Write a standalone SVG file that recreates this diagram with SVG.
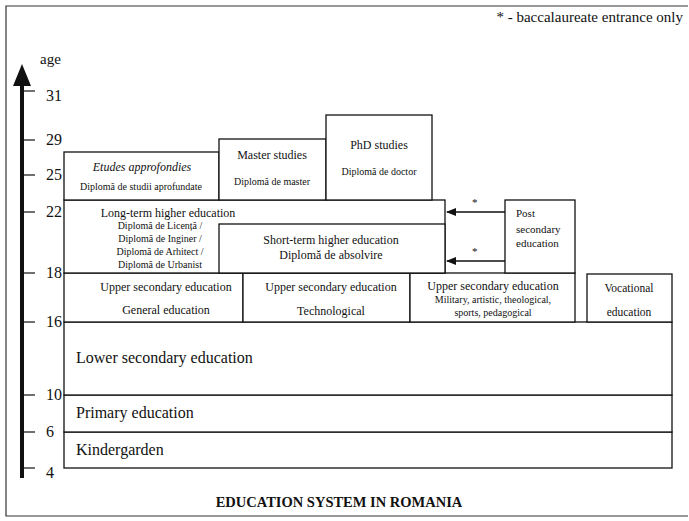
<svg xmlns="http://www.w3.org/2000/svg" width="689" height="521" viewBox="0 0 689 521">
<style>
.b{fill:#fff;stroke:#111;stroke-width:1.3}
.t{font-family:"Liberation Serif","Times New Roman",serif;fill:#111}
.m{font-size:12px;text-anchor:middle}
.s{font-size:10px;text-anchor:middle}
.p{font-size:11px;text-anchor:start}
.v{font-size:11.5px;text-anchor:middle}
.l{font-size:16px}
.a{font-size:16px}
.c{stroke:#111;stroke-width:1.6;fill:none}
</style>
<defs>
<marker id="ah" markerWidth="10" markerHeight="8" refX="9" refY="4" orient="auto" markerUnits="userSpaceOnUse">
<path d="M0,0 L10,4 L0,8 z" fill="#111"/>
</marker>
</defs>
<rect width="689" height="521" fill="#fff"/>
<polyline points="688,6 6,6 6,516 688,516" fill="none" stroke="#333" stroke-width="1.2"/>
<text class="t" x="683" y="22" font-size="15" text-anchor="end">* - baccalaureate entrance only</text>

<g id="axis">
<line x1="22" y1="82" x2="22" y2="478" stroke="#111" stroke-width="4"/>
<path d="M22,64 L31,86 L13,86 z" fill="#111"/>
<text class="t" x="40" y="64" font-size="15">age</text>
<g stroke="#111" stroke-width="1.2">
<line x1="22" y1="91" x2="35" y2="91"/>
<line x1="22" y1="140" x2="35" y2="140"/>
<line x1="22" y1="175" x2="35" y2="175"/>
<line x1="22" y1="212" x2="35" y2="212"/>
<line x1="22" y1="273" x2="35" y2="273"/>
<line x1="22" y1="322" x2="35" y2="322"/>
<line x1="22" y1="395" x2="35" y2="395"/>
<line x1="22" y1="432" x2="35" y2="432"/>
<line x1="22" y1="468" x2="35" y2="468"/>
</g>
<text class="t a" x="46" y="101">31</text>
<text class="t a" x="46" y="145">29</text>
<text class="t a" x="46" y="180">25</text>
<text class="t a" x="46" y="217">22</text>
<text class="t a" x="46" y="278">18</text>
<text class="t a" x="46" y="327">16</text>
<text class="t a" x="46" y="400">10</text>
<text class="t a" x="46" y="437">6</text>
<text class="t a" x="46" y="478">4</text>
</g>

<g id="kindergarden">
<rect class="b" x="64" y="432" width="608" height="36"/>
<text class="t l" x="76" y="455">Kindergarden</text>
</g>
<g id="primary">
<rect class="b" x="64" y="395" width="608" height="37"/>
<text class="t l" x="76" y="418">Primary education</text>
</g>
<g id="lower-secondary">
<rect class="b" x="64" y="322" width="608" height="73"/>
<text class="t l" x="76" y="363">Lower secondary education</text>
</g>

<g id="upper-general">
<rect class="b" x="64" y="273" width="179" height="49"/>
<text class="t m" x="166" y="291">Upper secondary education</text>
<text class="t m" x="166" y="314">General education</text>
</g>
<g id="upper-technological">
<rect class="b" x="243" y="273" width="167" height="49"/>
<text class="t m" x="331" y="291">Upper secondary education</text>
<text class="t m" x="331" y="315">Technological</text>
</g>
<g id="upper-military">
<rect class="b" x="410" y="273" width="165" height="49"/>
<text class="t m" x="493" y="290">Upper secondary education</text>
<text class="t s" x="493" y="303">Military, artistic, theological,</text>
<text class="t s" x="493" y="316">sports, pedagogical</text>
</g>
<g id="vocational">
<rect class="b" x="587" y="274" width="85" height="48"/>
<text class="t v" x="629" y="292">Vocational</text>
<text class="t v" x="629" y="316">education</text>
</g>

<g id="long-term">
<rect class="b" x="64" y="200" width="381" height="73"/>
<text class="t m" x="168" y="217">Long-term higher education</text>
<text class="t s" x="160" y="229">Diplomă de Licență /</text>
<text class="t s" x="160" y="242">Diplomă de Inginer /</text>
<text class="t s" x="160" y="255">Diplomă de Arhitect /</text>
<text class="t s" x="160" y="268">Diplomă de Urbanist</text>
</g>
<g id="short-term">
<rect class="b" x="219" y="224" width="226" height="49"/>
<text class="t m" x="331" y="244">Short-term higher education</text>
<text class="t m" x="331" y="259">Diplomă de absolvire</text>
</g>

<g id="etudes">
<rect class="b" x="64" y="152" width="155" height="48"/>
<text class="t m" x="142" y="171" font-style="italic">Etudes approfondies</text>
<text class="t s" x="141" y="190">Diplomă de studii aprofundate</text>
</g>
<g id="master">
<rect class="b" x="219" y="139" width="107" height="61"/>
<text class="t m" x="272" y="159">Master studies</text>
<text class="t s" x="272" y="185">Diplomă de master</text>
</g>
<g id="phd">
<rect class="b" x="326" y="115" width="106" height="85"/>
<text class="t m" x="379" y="149">PhD studies</text>
<text class="t s" x="379" y="175">Diplomă de doctor</text>
</g>

<g id="post-secondary">
<rect class="b" x="505" y="200" width="70" height="73"/>
<text class="t p" x="516" y="217">Post</text>
<text class="t p" x="516" y="233">secondary</text>
<text class="t p" x="516" y="247">education</text>
</g>

<g id="connectors">
<line class="c" x1="505" y1="212" x2="447" y2="212" marker-end="url(#ah)"/>
<line class="c" x1="505" y1="261" x2="447" y2="261" marker-end="url(#ah)"/>
<text class="t" x="472" y="206" font-size="11">*</text>
<text class="t" x="472" y="255" font-size="11">*</text>
</g>

<text class="t" x="339" y="507" font-size="14.5" font-weight="bold" text-anchor="middle">EDUCATION SYSTEM IN ROMANIA</text>
</svg>
